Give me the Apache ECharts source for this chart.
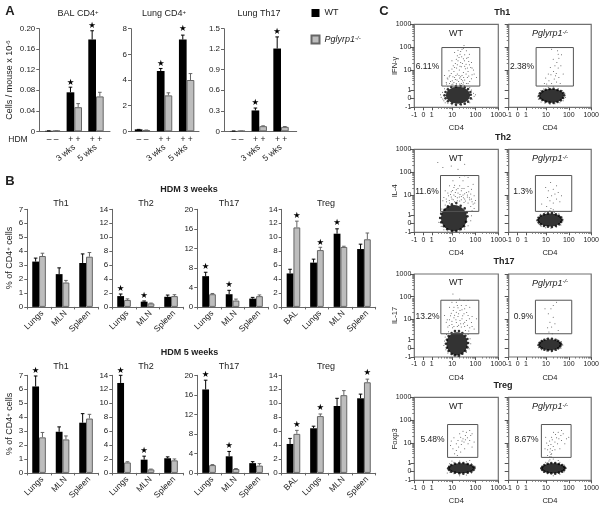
<!DOCTYPE html>
<html><head><meta charset="utf-8">
<style>html,body{margin:0;padding:0;background:#fff}#c{width:602px;height:509px}</style>
<script src="https://cdn.jsdelivr.net/npm/echarts@6/dist/echarts.min.js"></script>
</head><body><div id="c"></div>
<script>
// ---------- Panel A ----------
const hdmPositions=[1,2,3];
const hdmLabels=['– –','+ +','+ +'];
const weekPositions=[2,3];
const weekLabels=['3 wks','5 wks'];
const balWT=[0.001,0.076,0.179], balWThi=[0.001,0.086,0.196], balKO=[0.001,0.047,0.068], balKOhi=[0.001,0.054,0.076];
const lungWT=[0.15,4.7,7.15], lungWThi=[0.15,4.9,7.5], lungKO=[0.1,2.8,4.0], lungKOhi=[0.1,3.0,4.5];
const t17WT=[0.005,0.305,1.21], t17WThi=[0.005,0.34,1.38], t17KO=[0.005,0.075,0.065], t17KOhi=[0.005,0.08,0.07];
const balStars=[[2,0,0.0955],[3,0,0.2065]], lungStars=[[2,0,5.3],[3,0,8.0]], t17Stars=[[2,0,0.41],[3,0,1.46]];
// ---------- Panel B ----------
const organs3=['Lungs','MLN','Spleen'];
const organs4=['BAL','Lungs','MLN','Spleen'];
const w3Th1WT=[3.25,2.35,3.15], w3Th1WThi=[3.5,2.8,3.8], w3Th1KO=[3.65,1.75,3.6], w3Th1KOhi=[3.85,1.9,3.9];
const w3Th2WT=[1.55,0.75,1.45], w3Th2WThi=[1.85,0.85,1.7], w3Th2KO=[1.0,0.5,1.55], w3Th2KOhi=[1.15,0.55,1.75];
const w3Th17WT=[6.3,2.6,1.7], w3Th17WThi=[7.1,3.4,1.95], w3Th17KO=[2.6,1.3,2.2], w3Th17KOhi=[2.75,1.6,2.45];
const w3TregWT=[4.8,6.35,10.5,8.3], w3TregWThi=[5.4,6.85,11.2,9.0], w3TregKO=[11.4,8.15,8.6,9.7], w3TregKOhi=[12.3,8.55,8.7,10.6];
const w5Th1WT=[6.2,2.95,3.6], w5Th1WThi=[6.95,3.3,4.25], w5Th1KO=[2.55,2.4,3.9], w5Th1KOhi=[2.9,2.65,4.2];
const w5Th2WT=[12.9,1.9,2.1], w5Th2WThi=[14,2.4,2.3], w5Th2KO=[1.5,0.5,1.8], w5Th2KOhi=[1.6,0.55,2.0];
const w5Th17WT=[17.1,3.4,2.0], w5Th17WThi=[19,4.4,2.3], w5Th17KO=[1.6,0.8,1.5], w5Th17KOhi=[1.7,0.9,1.9];
const w5TregWT=[4.15,6.4,9.6,10.7], w5TregWThi=[4.95,6.7,10.7,11.3], w5TregKO=[5.6,8.15,11.15,13], w5TregKOhi=[6.1,8.45,11.8,13.45];
const w3Th2Stars=[[0,0,2.55],[1,0,1.53]], w3Th17Stars=[[0,0,8.2],[1,0,4.45]], w3TregStars=[[0,1,13],[1,1,9.25],[2,0,12]];
const w5Th1Stars=[[0,0,7.3]], w5Th2Stars=[[0,0,14.6],[1,0,3.2]], w5Th17Stars=[[0,0,20.1],[1,0,5.6]], w5TregStars=[[0,1,6.95],[1,1,9.3],[3,1,14.3]];
// ---------- Panel C (events in display channels, gates as [x0,y0,x1,y1]) ----------
const flowTicks=[0,27,52,113,182,250];
const flowLabels=['-1','0','1','10','100','1000'];
const flowMinor=[70,81,89,95,99,104,107,110,134,146,155,161,167,171,175,178,203,215,224,230,236,240,244,247];
// dense population centre, its speckled rim, and the sparse events
const th1WtCore=[[130,36]], th1KoCore=[[130,35]], th2WtCore=[[118,43]], th2KoCore=[[125,37]], th17WtCore=[[127,40]], th17KoCore=[[125,37]], tregWtCore=[[140,36]], tregKoCore=[[135,36]];
const th1WtRim=[[168,38],[167,46],[160,55],[150,60],[138,64],[124,63],[110,61],[100,54],[93,46],[90,36],[93,27],[100,18],[112,12],[124,8],[138,9],[150,11],[160,17],[168,27]];
const th1KoRim=[[168,36],[165,43],[158,49],[148,52],[136,56],[124,55],[112,53],[102,48],[95,42],[92,35],[95,27],[102,22],[112,17],[124,14],[136,13],[148,16],[158,21],[165,28]];
const th2WtRim=[[158,48],[156,60],[150,72],[138,80],[125,88],[112,84],[100,78],[90,68],[80,56],[77,43],[80,30],[88,18],[98,9],[112,4],[125,4],[138,9],[148,18],[154,32]];
const th2KoRim=[[162,38],[158,45],[152,50],[143,54],[131,58],[119,57],[107,54],[97,50],[91,44],[88,37],[91,30],[97,24],[107,19],[119,17],[131,16],[143,19],[153,24],[159,31]];
const th17WtRim=[[160,42],[158,54],[152,64],[143,72],[133,78],[121,78],[111,72],[102,63],[97,52],[94,40],[97,28],[102,18],[111,9],[121,5],[133,4],[143,10],[152,18],[158,29]];
const th17KoRim=[[159,38],[156,43],[150,48],[142,52],[131,55],[119,55],[108,52],[100,48],[94,43],[91,37],[94,31],[100,26],[108,22],[119,20],[131,19],[142,22],[150,26],[156,32]];
const tregWtRim=[[179,37],[176,41],[170,46],[159,49],[146,52],[134,52],[121,50],[110,46],[104,41],[101,36],[104,31],[110,26],[121,23],[134,21],[146,20],[159,23],[170,26],[176,31]];
const tregKoRim=[[171,37],[168,41],[162,46],[152,49],[141,52],[129,52],[118,50],[108,46],[102,41],[99,36],[102,31],[108,26],[118,23],[129,21],[141,20],[152,23],[162,26],[168,31]];
const th1WtDots=[[80,30],[84,45],[78,38],[88,20],[92,14],[100,12],[112,8],[125,5],[140,7],[152,10],[165,14],[172,24],[178,33],[176,42],[170,52],[165,60],[150,66],[140,72],[125,72],[112,68],[100,62],[90,56],[85,25],[182,38],[118,75],[146,74],[96,70],[160,72],[100,85],[108,78],[115,92],[122,84],[128,100],[135,88],[142,96],[150,82],[158,90],[165,78],[172,98],[118,108],[126,118],[134,112],[140,122],[146,105],[152,116],[160,108],[168,120],[110,102],[104,92],[122,132],[130,140],[138,135],[146,146],[154,130],[162,138],[116,125],[128,155],[136,160],[150,158],[142,175],[130,172],[160,150],[170,135],[176,112],[95,75],[90,96],[185,90],[112,140],[148,186],[155,170],[138,92],[132,78],[144,80],[124,96],[98,88],[106,96],[113,80],[120,90],[127,82],[133,96],[140,84],[147,90],[154,100],[162,94],[170,86],[178,100],[103,110],[112,115],[120,120],[128,128],[136,124],[143,132],[150,124],[158,118],[164,128],[172,118],[125,145],[133,150],[141,152],[149,140],[156,148],[164,160],[120,165],[138,168],[146,178],[115,70],[125,68],[135,70],[145,68],[155,72],[105,72]];
const th1KoDots=[[88,32],[92,42],[90,24],[98,16],[110,12],[125,9],[140,11],[155,14],[165,20],[172,30],[170,42],[163,50],[150,57],[135,62],[120,60],[105,55],[96,50],[115,70],[122,80],[130,72],[138,85],[145,76],[152,90],[128,98],[136,108],[144,102],[150,118],[158,125],[146,135],[152,148],[160,158],[148,170],[130,175],[120,100],[112,88],[140,125],[135,145],[165,100],[108,72],[156,72],[142,95],[126,120],[150,160]];
const th2WtDots=[[73,30],[75,45],[78,58],[82,70],[80,18],[88,8],[100,4],[118,3],[135,5],[150,10],[160,20],[168,35],[170,50],[172,65],[168,78],[160,88],[148,90],[135,94],[120,92],[105,88],[92,82],[178,72],[175,85],[165,98],[150,100],[128,104],[112,100],[140,108],[95,100],[102,110],[118,112],[130,118],[145,112],[158,106],[170,100],[182,96],[110,122],[125,128],[140,125],[155,120],[168,115],[178,110],[148,132],[135,140],[160,138],[120,142],[170,130],[145,155],[150,170],[135,165],[85,95],[92,125],[105,140],[160,165],[175,145],[115,155],[130,190],[150,205],[85,195],[110,200],[70,210],[88,105],[96,92],[104,96],[110,106],[116,98],[122,108],[128,95],[134,106],[140,98],[146,104],[152,94],[158,112],[164,104],[172,92],[180,88],[100,118],[108,114],[114,126],[122,120],[136,114],[142,132],[150,116],[162,122],[130,132],[118,135]];
const th2KoDots=[[84,35],[88,45],[90,26],[98,18],[112,14],[128,12],[145,16],[158,22],[164,34],[162,46],[152,56],[138,60],[125,65],[110,60],[96,54],[128,72],[135,68],[100,85],[115,78],[125,95],[135,88],[145,100],[155,92],[130,110],[140,115],[150,120],[118,105],[120,125],[135,130],[145,140],[127,150],[112,135],[160,110]];
const th17WtDots=[[88,35],[90,48],[92,60],[94,22],[100,12],[115,8],[128,3],[142,8],[155,14],[163,25],[168,40],[166,55],[160,68],[152,80],[140,90],[128,92],[114,88],[102,76],[96,68],[162,78],[100,90],[112,98],[125,104],[138,100],[150,92],[165,88],[178,84],[105,112],[118,118],[130,122],[142,115],[155,110],[170,104],[95,105],[110,132],[125,135],[136,140],[148,130],[160,125],[118,150],[130,148],[140,155],[150,145],[165,150],[105,150],[125,165],[135,175],[90,125],[185,115],[115,190],[104,95],[118,92],[132,96],[146,100],[158,96],[172,92],[98,112],[112,108],[124,112],[136,110],[150,105],[164,115],[108,124],[120,126],[132,130],[144,124],[156,134],[172,122],[116,140],[128,155],[142,142],[154,155],[112,165],[148,170],[160,170]];
const th17KoDots=[[88,35],[90,28],[92,44],[100,22],[115,18],[130,16],[145,20],[158,26],[164,36],[160,46],[148,52],[132,56],[115,55],[100,50],[122,75],[130,90],[125,105],[135,120],[120,130],[128,145],[135,155],[145,165],[110,145],[140,100],[118,88],[150,80],[132,70]];
const tregWtDots=[[100,32],[102,42],[106,24],[118,20],[135,14],[155,16],[170,22],[180,32],[181,42],[170,50],[155,56],[135,58],[118,54],[105,50],[112,58],[165,60],[98,22],[130,120],[138,130],[145,125],[152,135],[158,128],[165,120],[148,115],[140,108],[132,100],[125,110],[118,128],[160,110],[172,140],[155,145],[145,148],[165,150],[125,90],[138,85],[115,95],[128,75],[110,118],[178,115],[150,95],[135,140],[120,80],[108,105],[142,118],[152,122],[168,135],[172,100]];
const tregKoDots=[[99,32],[101,42],[106,24],[118,20],[135,14],[155,18],[168,26],[174,36],[168,46],[155,54],[112,54],[125,62],[135,64],[130,70],[128,78],[122,58],[150,60],[118,75],[125,85],[130,80],[118,92],[126,95],[132,90],[120,105],[128,108],[135,102],[115,112],[124,118],[132,122],[140,115],[148,110],[145,128],[152,125],[160,120],[158,135],[142,138],[136,145],[165,140],[150,145],[170,110],[175,125],[112,130],[110,95],[130,130],[125,72],[140,92],[155,95],[182,130],[160,150]];
const gateTh1Wt=[82,64,195,180], gateTh1Ko=[83,64,196,180], gateTh2Wt=[78,63,192,171], gateTh2Ko=[81,63,191,171];
const gateTh17Wt=[79,70,192,171], gateTh17Ko=[81,70,191,171], gateTregWt=[99,69,189,168], gateTregKo=[99,69,189,168];

// ---------- builders ----------
const FONT='"Liberation Sans", Arial, sans-serif', INK='#222', AXIS='#666';
const grid=[],xAxis=[],yAxis=[],series=[],title=[];
const richBase={b:{fontSize:9,fontFamily:FONT,color:INK},s:{fontSize:6,fontFamily:FONT,color:INK,verticalAlign:'top'},i:{fontSize:9,fontFamily:FONT,color:INK,fontStyle:'italic'},si:{fontSize:6,fontFamily:FONT,color:INK,fontStyle:'italic',verticalAlign:'top'}};
function text(t,x,y,o={}){title.push({text:t,left:x,top:y,textAlign:'center',textVerticalAlign:'middle',padding:0,z:5,
  textStyle:{fontFamily:FONT,fontSize:o.size||9,fontWeight:o.bold?'bold':'normal',fontStyle:o.italic?'italic':'normal',color:INK,rich:richBase}});}
function yAxisOpt(gi,ymax,interval,dec,name,nameGap){return {type:'value',gridIndex:gi,min:0,max:ymax,interval,
  splitLine:{show:false},axisLine:{show:true,lineStyle:{color:AXIS,width:1}},axisTick:{show:true,length:3,lineStyle:{color:AXIS}},
  axisLabel:{fontSize:8,fontFamily:FONT,color:INK,margin:4,formatter:v=>v===0?'0':v.toFixed(dec)},
  name:name||'',nameLocation:'middle',nameRotate:90,nameGap:nameGap||18,nameMoveOverlap:false,nameTextStyle:{fontFamily:FONT,fontSize:9,color:INK,rich:richBase}};}
function barRender(seriesSide,bw){return (p,api)=>{const x=api.value(0),lo=api.value(1),hi=api.value(2);
  const a=api.coord([x,lo]),b=api.coord([x,hi]);const cx=a[0]+seriesSide*bw/2,col=seriesSide<0?'#000':'#666';
  return {type:'group',children:[
   {type:'line',shape:{x1:cx,y1:a[1],x2:cx,y2:b[1]},style:{stroke:col,lineWidth:1}},
   {type:'line',shape:{x1:cx-1.8,y1:b[1],x2:cx+1.8,y2:b[1]},style:{stroke:col,lineWidth:1}}]};};}
function starRender(bw){return (p,api)=>{const c=api.coord([api.value(0),api.value(2)]);const side=api.value(1)===0?-1:1;
  return {type:'text',x:c[0]+side*bw/2,y:c[1],style:{text:'★',fontFamily:'"DejaVu Sans"',fontSize:8.5,fill:'#000',align:'center',verticalAlign:'middle'}};};}
function addBars(gi,xs,wt,wtHi,ko,koHi,stars,bw){
  const z=(a)=>a.map((v,i)=>[xs[i],v]);
  series.push({name:'WT',type:'bar',xAxisIndex:xAxis.length-1,yAxisIndex:yAxis.length-1,barWidth:bw,barGap:'0%',data:z(wt),itemStyle:{color:'#000',borderColor:'#000',borderWidth:0},silent:true});
  series.push({name:'Pglyrp1-/-',type:'bar',xAxisIndex:xAxis.length-1,yAxisIndex:yAxis.length-1,barWidth:bw,barGap:'0%',data:z(ko),itemStyle:{color:'#bdbdbd',borderColor:'#666',borderWidth:1},silent:true});
  const ax={xAxisIndex:xAxis.length-1,yAxisIndex:yAxis.length-1,silent:true,clip:false,z:4};
  series.push({type:'custom',name:'WT SEM',...ax,renderItem:barRender(-1,bw),encode:{x:0,y:[1,2]},data:xs.map((x,i)=>[x,wt[i],wtHi[i]])});
  series.push({type:'custom',name:'KO SEM',...ax,renderItem:barRender(1,bw),encode:{x:0,y:[1,2]},data:xs.map((x,i)=>[x,ko[i],koHi[i]])});
  series.push({type:'custom',name:'p<0.05',...ax,renderItem:starRender(bw),encode:{x:0,y:2},data:stars});
}
function panelA(left,right,xMin,xMax,ymax,interval,dec,wt,wtHi,ko,koHi,stars,name){
  const gi=grid.length;grid.push({left,top:28.7,width:right-left,height:102.6});
  xAxis.push({type:'value',gridIndex:gi,min:xMin,max:xMax,position:'bottom',offset:14,splitLine:{show:false},axisLine:{show:false},axisTick:{show:false},
    axisLabel:{customValues:weekPositions,formatter:v=>weekLabels[weekPositions.indexOf(v)],rotate:38,fontSize:8.5,fontFamily:FONT,color:INK,margin:1}});
  xAxis.push({type:'value',gridIndex:gi,min:xMin,max:xMax,position:'bottom',splitLine:{show:false},axisLine:{show:true,onZero:false,lineStyle:{color:AXIS}},axisTick:{show:false},
    axisLabel:{customValues:hdmPositions,formatter:v=>hdmLabels[hdmPositions.indexOf(v)],fontSize:8.5,fontFamily:FONT,color:INK,margin:4}});
  yAxis.push(yAxisOpt(gi,ymax,interval,dec,name,25));
  addBars(gi,hdmPositions,wt,wtHi,ko,koHi,stars,7.7);
}
function panelB(left,top,cats,ymax,interval,wt,wtHi,ko,koHi,stars,name){
  const gi=grid.length,n=cats.length;grid.push({left,top,width:23.5*n,height:97.6});
  xAxis.push({type:'category',gridIndex:gi,data:cats,axisLine:{show:true,lineStyle:{color:AXIS}},axisTick:{show:true,length:2.5,alignWithLabel:false,lineStyle:{color:AXIS}},
    axisLabel:{interval:0,rotate:45,fontSize:8.5,fontFamily:FONT,color:INK,margin:2,verticalAlign:'top'}});
  yAxis.push(yAxisOpt(gi,ymax,interval,0,name,13));
  addBars(gi,cats.map((_,i)=>i),wt,wtHi,ko,koHi,stars,6.8);
}
function flow(left,top,yName,core,coreSize,rim,dots,gate){
  const gi=grid.length;grid.push({left,top,width:84,height:83,show:true,borderColor:'#707070',borderWidth:1.2,backgroundColor:'transparent'});
  const lab={fontSize:7,fontFamily:FONT,color:INK};
  xAxis.push({type:'value',gridIndex:gi,min:0,max:250,splitLine:{show:false},axisLine:{show:false},axisTick:{show:true,customValues:flowTicks,length:3,lineStyle:{color:'#555'}},
    axisLabel:{...lab,customValues:flowTicks,formatter:v=>flowLabels[flowTicks.indexOf(v)],margin:4},
    name:'CD4',nameLocation:'middle',nameGap:17,nameTextStyle:{fontFamily:FONT,fontSize:7.5,color:INK}});
  const xi=xAxis.length-1;
  xAxis.push({type:'value',gridIndex:gi,min:0,max:250,position:'bottom',splitLine:{show:false},axisLine:{show:false},axisLabel:{show:false},axisTick:{show:true,customValues:flowMinor,length:1.5,lineStyle:{color:'#777'}}});
  yAxis.push({type:'value',gridIndex:gi,min:0,max:250,splitLine:{show:false},axisLine:{show:false},axisTick:{show:true,customValues:flowTicks,length:4,lineStyle:{color:'#555'}},
    axisLabel:{...lab,show:!!yName,customValues:flowTicks,formatter:v=>flowLabels[flowTicks.indexOf(v)],margin:3},
    name:yName||'',nameLocation:'middle',nameRotate:90,nameGap:15,nameMoveOverlap:false,nameTextStyle:{fontFamily:FONT,fontSize:7.5,color:INK}});
  const yi=yAxis.length-1;
  yAxis.push({type:'value',gridIndex:gi,min:0,max:250,position:'left',splitLine:{show:false},axisLine:{show:false},axisLabel:{show:false},axisTick:{show:true,customValues:flowMinor,length:2,lineStyle:{color:'#777'}}});
  const ax={xAxisIndex:xi,yAxisIndex:yi,silent:true};
  series.push({type:'scatter',name:'core events',...ax,symbolSize:coreSize,data:core,itemStyle:{color:'#000'}});
  series.push({type:'scatter',name:'rim events',...ax,symbolSize:2.6,data:rim,itemStyle:{color:'#000'}});
  series.push({type:'scatter',name:'events',...ax,symbolSize:1,data:dots,itemStyle:{color:'#222'}});
  series.push({type:'custom',name:'gate',...ax,z:3,clip:false,encode:{x:[0,2],y:[1,3]},data:[gate],renderItem:(p,api)=>{
    const a=api.coord([api.value(0),api.value(1)]),b=api.coord([api.value(2),api.value(3)]);
    return {type:'rect',shape:{x:a[0],y:b[1],width:b[0]-a[0],height:a[1]-b[1]},style:{fill:'none',stroke:'#555',lineWidth:1}};}});
}

// Panel A
panelA(39.3,110,0.385,3.646,0.2,0.04,2,balWT,balWThi,balKO,balKOhi,balStars,'{b|Cells / mouse x 10}{s|-6}');
panelA(131,199,0.48,3.56,8,2,0,lungWT,lungWThi,lungKO,lungKOhi,lungStars);
panelA(224,296.7,0.38,3.72,1.5,0.3,1,t17WT,t17WThi,t17KO,t17KOhi,t17Stars);
// Panel B, 3 weeks
const B3=209.3,B5=375.3,XL=[27.3,112.3,197.3,281.7];
panelB(XL[0],B3,organs3,7,1,w3Th1WT,w3Th1WThi,w3Th1KO,w3Th1KOhi,[],'{b|% of CD4}{s|+}{b| cells}');
panelB(XL[1],B3,organs3,14,2,w3Th2WT,w3Th2WThi,w3Th2KO,w3Th2KOhi,w3Th2Stars);
panelB(XL[2],B3,organs3,20,4,w3Th17WT,w3Th17WThi,w3Th17KO,w3Th17KOhi,w3Th17Stars);
panelB(XL[3],B3,organs4,14,2,w3TregWT,w3TregWThi,w3TregKO,w3TregKOhi,w3TregStars);
// Panel B, 5 weeks
panelB(XL[0],B5,organs3,7,1,w5Th1WT,w5Th1WThi,w5Th1KO,w5Th1KOhi,w5Th1Stars,'{b|% of CD4}{s|+}{b| cells}');
panelB(XL[1],B5,organs3,14,2,w5Th2WT,w5Th2WThi,w5Th2KO,w5Th2KOhi,w5Th2Stars);
panelB(XL[2],B5,organs3,20,4,w5Th17WT,w5Th17WThi,w5Th17KO,w5Th17KOhi,w5Th17Stars);
panelB(XL[3],B5,organs4,14,2,w5TregWT,w5TregWThi,w5TregKO,w5TregKOhi,w5TregStars);
// Panel C
const FL=[414.3,508.7];
flow(FL[0],24.3,'IFN-γ',th1WtCore,[24,17],th1WtRim,th1WtDots,gateTh1Wt); flow(FL[1],24.3,'',th1KoCore,[24,14],th1KoRim,th1KoDots,gateTh1Ko);
flow(FL[0],149.3,'IL-4',th2WtCore,[26,26],th2WtRim,th2WtDots,gateTh2Wt); flow(FL[1],149.3,'',th2KoCore,[24,13],th2KoRim,th2KoDots,gateTh2Ko);
flow(FL[0],274,'IL-17',th17WtCore,[21,23],th17WtRim,th17WtDots,gateTh17Wt); flow(FL[1],274,'',th17KoCore,[22,11],th17KoRim,th17KoDots,gateTh17Ko);
flow(FL[0],397.3,'Foxp3',tregWtCore,[25,10],tregWtRim,tregWtDots,gateTregWt); flow(FL[1],397.3,'',tregKoCore,[23,10],tregKoRim,tregKoDots,gateTregKo);

// Text
text('A',10,11,{size:13,bold:true}); text('B',10,181.5,{size:13,bold:true}); text('C',384,11,{size:13,bold:true});
text('{b|BAL CD4}{s|+}',78,13.5); text('{b|Lung CD4}{s|+}',164,13.5); text('Lung Th17',259,13.5);
text('HDM',18,140,{size:8.5});
text('HDM 3 weeks',189,189.3,{bold:true}); text('HDM 5 weeks',189.5,352.7,{bold:true});
[[61,'Th1'],[146,'Th2'],[229,'Th17'],[326,'Treg']].forEach(([x,t])=>{text(t,x,203.5);text(t,x,367);});
[['Th1',502.3,12.3],['Th2',503,137.3],['Th17',504,261.7],['Treg',503,385.3]].forEach(([t,x,y])=>text(t,x,y,{bold:true}));
const pctLabels=[['6.11%',427.5,66.5],['2.38%',522,66.5],['11.6%',427,191.5],['1.3%',523,191.5],['13.2%',427.5,316.5],['0.9%',523.5,316.5],['5.48%',432.5,439.5],['8.67%',526.5,439.5]];
pctLabels.forEach(([t,x,y])=>text(t,x,y,{size:8.5}));
[33.5,158.5,283,406.5].forEach(y=>{text('WT',456,y);text('{i|Pglyrp1}{si|-/-}',550,y);});

const chart=echarts.init(document.getElementById('c'),null,{renderer:'canvas'});
chart.setOption({animation:false,backgroundColor:'#fff',title,grid,xAxis,yAxis,series,tooltip:{show:false},
 legend:{data:['WT','Pglyrp1-/-'],orient:'vertical',left:310.5,top:8.5,icon:'rect',itemWidth:8,itemHeight:8,itemGap:17,selectedMode:false,padding:0,
  formatter:n=>n==='WT'?n:'{i|Pglyrp1}{si|-/-}',textStyle:{fontFamily:FONT,fontSize:9,color:INK,rich:richBase}}});
</script></body></html>
